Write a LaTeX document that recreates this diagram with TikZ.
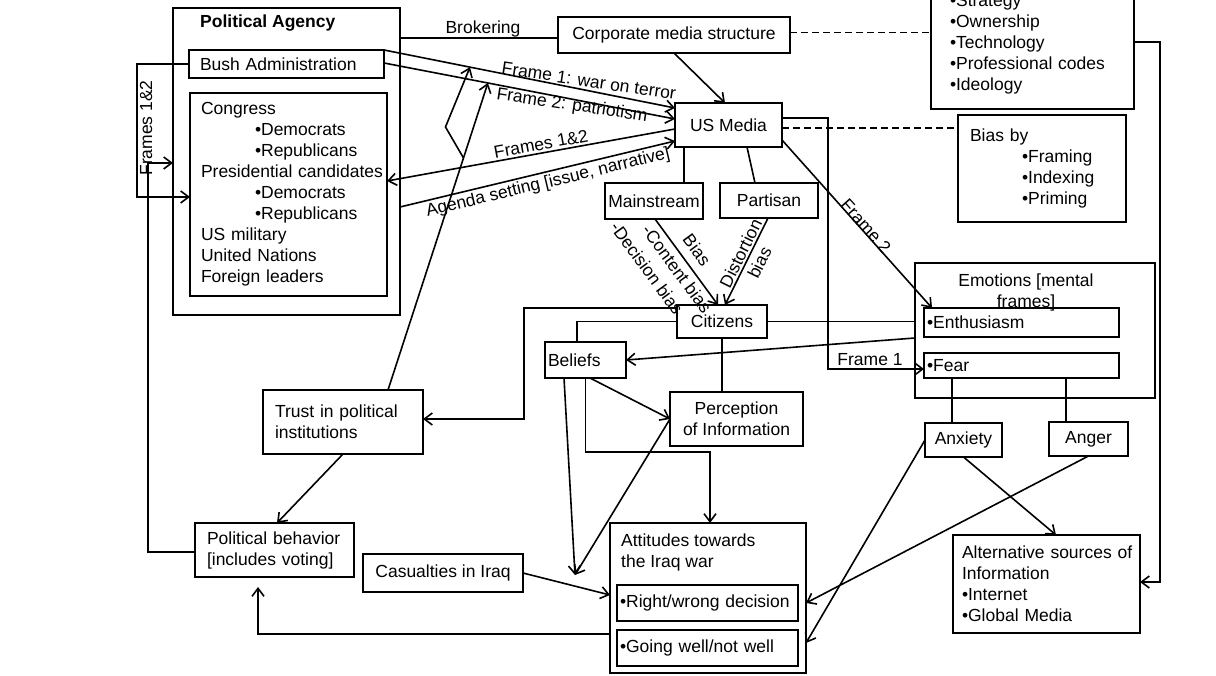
\documentclass[tikz,border=0pt]{standalone}
\usepackage{fontspec}
\setmainfont{Liberation Sans}
\usetikzlibrary{arrows.meta,calc}
\begin{document}
\begin{tikzpicture}[x=1pt,y=-1pt,
  every node/.style={font=\fontsize{17.5}{21}\selectfont, text=black},
  bx/.style={draw, line width=2.5pt, inner ysep=0pt, inner xsep=0pt, outer sep=0pt, anchor=north west, align=center},
  lb/.style n args={3}{align=left, minimum width=#1pt, text width=#2pt, inner xsep=#3pt},
  ln/.style={line width=1.6pt},
  arr/.style={line width=1.6pt, -{Straight Barb[length=8pt,width=12pt]}},
  dsh/.style={line width=1.8pt, dash pattern=on 7pt off 4pt},
  lbl/.style={inner sep=0pt},
]
\fill[white] (0,0) rectangle (1216,676);
\useasboundingbox (0,0) rectangle (1216,676);
\clip (0,0) rectangle (1216,676);

% ---------- boxes ----------
\node[bx, line width=2.9pt, minimum width=227pt, minimum height=307pt] (pa) at (173,8) {};
\node[anchor=west, inner sep=0pt, font=\fontsize{17.5}{21}\selectfont\bfseries] (patitle) at (200,23) {Political Agency};
\node[bx, lb={195}{173}{11}, minimum height=28pt] (bush) at (189,50) {Bush Administration};
\node[bx, lb={197}{175}{11}, minimum height=203pt] (cong) at (190,93) {Congress\\\hspace*{54pt}•Democrats\\\hspace*{54pt}•Republicans\\\mbox{Presidential candidates}\\\hspace*{54pt}•Democrats\\\hspace*{54pt}•Republicans\\US military\\United Nations\\Foreign leaders};
\node[bx, minimum width=232pt, minimum height=36pt] (corp) at (558,17) {Corporate media structure};
\node[bx, lb={203}{165}{19}, minimum height=130pt] (tr) at (931,-21) {•Strategy\\•Ownership\\•Technology\\•Professional codes\\•Ideology};
\node[bx, minimum width=107pt, minimum height=44pt] (usm) at (675,103) {US Media};
\node[bx, lb={168}{144}{12}, minimum height=107pt] (bias) at (958,115) {Bias by\\\hspace*{52pt}•Framing\\\hspace*{52pt}•Indexing\\\hspace*{52pt}•Priming};
\node[bx, minimum width=98pt, minimum height=36pt] (ms) at (605,183) {Mainstream};
\node[bx, minimum width=98pt, minimum height=35pt] (pt) at (720,183) {Partisan};
\node[bx, minimum width=90pt, minimum height=33pt] (cit) at (677,305) {Citizens};
\node[bx, minimum width=240pt, minimum height=135pt] (emo) at (915,263) {};
\node[inner sep=0pt, align=center] (emotitle) at (1026,292) {Emotions [mental\\frames]};
\node[bx, lb={195}{189}{3}, minimum height=29pt] (enth) at (924,308) {•Enthusiasm};
\node[bx, lb={195}{189}{3}, minimum height=25pt] (fear) at (924,353) {•Fear};
\node[bx, minimum width=77pt, minimum height=34pt] (anx) at (925,423) {Anxiety};
\node[bx, minimum width=79pt, minimum height=34pt] (ang) at (1049,422) {Anger};
\node[bx, lb={81}{75}{3}, minimum height=36pt] (bel) at (545,342) {Beliefs};
\node[bx, minimum width=133pt, minimum height=54pt] (perc) at (670,392) {Perception\\of Information};
\node[bx, lb={160}{136}{12}, minimum height=64pt] (trust) at (263,390) {Trust in political\\institutions};
\node[bx, lb={159}{135}{12}, minimum height=54pt] (pb) at (195,523) {\mbox{Political behavior}\\\mbox{[includes voting]}};
\node[bx, minimum width=160pt, minimum height=38pt] (cas) at (363,554) {Casualties in Iraq};
\node[bx, minimum width=196pt, minimum height=150pt] (att) at (610,523) {};
\node[anchor=west, inner sep=0pt, align=left] (atttitle) at (621,552.5) {Attitudes towards\\the Iraq war};
\node[bx, lb={181}{175}{3}, minimum height=36pt] (rw) at (617,585) {•Right/wrong decision};
\node[bx, lb={181}{175}{3}, minimum height=36pt] (gw) at (617,630) {•Going well/not well};
\node[bx, lb={187}{169}{9}, minimum height=98pt] (alt) at (953,535) {\mbox{Alternative sources of}\\Information\\•Internet\\•Global Media};

% ---------- connectors ----------
% Brokering
\coordinate (brk) at ([yshift=-3pt]corp.west);
\draw[ln] (brk) -- (brk -| pa.east);
\node[lbl] (brklbl) at (483,29) {Brokering};
% corporate -- strategy box (dashed)
\coordinate (cd) at ([yshift=2.5pt]corp.east);
\draw[dsh] (cd) -- (cd -| tr.west);
% corporate -> US Media
\draw[arr] (corp.south) -- ([xshift=-3.5pt]usm.north);
% Frames 1 and 2 from Bush Administration
\coordinate (f1s) at (bush.north east);
\coordinate (f1e) at ([yshift=17pt]usm.west);
\coordinate (f2s) at ([yshift=1pt]bush.east);
\coordinate (f2e) at ([yshift=6pt]usm.west);
\draw[arr] (f1s) -- (f1e);
\draw[arr] (f2s) -- (f2e);
\node[lbl, rotate=-8.5] (f1lbl) at (589,81) {Frame 1: war on terror};
\node[lbl, rotate=-8.5] (f2lbl) at (572,106) {Frame 2: patriotism};
% Frames 1&2 to Congress
\coordinate (f3s) at ([yshift=-4pt]usm.west);
\coordinate (f3e) at ([yshift=13.5pt]cong.east);
\draw[arr] (f3s) -- (f3e);
\node[lbl, rotate=10.5] (f3lbl) at (541,144) {Frames 1\&2};
% Agenda setting
\coordinate (ags) at ([yshift=-45.5pt]pa.east);
\coordinate (age) at ([yshift=-16pt]usm.west);
\draw[arr] (ags) -- (age);
\node[lbl, rotate=13.5] (aglbl) at (548,183) {Agenda setting [issue, narrative]};
% US Media -- Mainstream / Partisan
\coordinate (m1) at ([xshift=30pt]ms.north);
\draw[ln] (m1) -- (m1 |- usm.south);
\draw[ln] ([xshift=18.5pt]usm.south) -- ([xshift=-14pt]pt.north);
% US Media -- Bias by (dashed)
\coordinate (ud) at ([yshift=-3pt]usm.east);
\draw[dsh] (ud) -- (ud -| bias.west);
% Frame 1 to Fear
\draw[arr] ([yshift=7pt]usm.east) -- ++(46,0) |- ([yshift=-3.5pt]fear.west);
\node[lbl] (fr1lbl) at (870,360) {Frame 1};
% Frame 2 to Enthusiasm
\draw[arr] ([yshift=7pt]usm.south east) -- ([xshift=8pt]enth.north west);
\node[lbl, rotate=-48.2] (fr2lbl) at (866,226) {Frame 2};
% Mainstream / Partisan -> Citizens
\draw[arr] ([xshift=1pt]ms.south) -- ([xshift=-4pt]cit.north);
\draw[arr] ([xshift=-1pt]pt.south) -- ([xshift=3pt]cit.north);
\node[lbl, rotate=-53.8] (b1) at (697,250) {Bias};
\node[lbl, rotate=-53.8] (b2) at (677,269) {-Content bias};
\node[lbl, rotate=-53.8] (b3) at (647,268) {-Decision bias};
\node[lbl, rotate=63.7, align=center] (b4) at (750,258) {Distortion\\bias};
% Citizens -- Emotions
\draw[ln] (cit.east) -- (cit.east -| emo.west);
% Emotions -> Beliefs
\draw[arr] ([yshift=-7.5pt]emo.west) -- (bel.east);
% Citizens -- Beliefs
\draw[ln] (cit.west) -| ([xshift=-8.5pt]bel.north);
% Citizens -> Trust
\draw[arr] ([yshift=-3pt]cit.north west) -- ++(-153,0) |- ([yshift=3pt]trust.east);
% Citizens -- Perception
\draw[ln] (cit.south) -- (cit.south |- perc.north);
% Beliefs -> Perception
\draw[arr] ([xshift=4.5pt]bel.south) -- (perc.west);
% Beliefs -> Attitudes
\draw[arr] (bel.south) -- ++(0,74) -| ([xshift=2pt]att.north);
% converging arrows
\coordinate (conv) at (575,575);
\draw[arr] ([xshift=-21.5pt]bel.south) -- (conv);
\draw[arr] (perc.west) -- (conv);
% Casualties -> Attitudes
\draw[arr] (cas.east) -- ([yshift=3pt]att.west);
% Attitudes -> Political behavior
\draw[arr, shorten >=10pt] ([yshift=-36pt]att.west) -| ([xshift=-16.5pt]pb.south);
% Anxiety / Anger -> Attitudes
\draw[arr] (anx.west) -- ([yshift=-45pt]att.east);
\draw[arr] (ang.south) -- ([xshift=8pt]rw.east);
% Anxiety -> Alternative sources
\draw[arr] (anx.south) -- ([xshift=9.5pt]alt.north);
% Strategy box -> Alternative sources
\draw[arr] ([yshift=2pt]tr.east) -- ++(26,0) |- ([yshift=2pt]alt.east);
% Fear -- Anxiety / Anger
\coordinate (fa) at ([xshift=-69.5pt]fear.south);
\draw[ln] (fa) -- (fa |- anx.north);
\coordinate (fg) at ([xshift=44.5pt]fear.south);
\draw[ln] (fg) -- (fg |- ang.north);
% Trust -> Political behavior
\draw[arr] (trust.south) -- ([xshift=2.5pt]pb.north);
% Trust -> frame lines
\coordinate (t1) at ($(f1s)!0.2955!(f1e)$);
\coordinate (t2) at ($(f2s)!0.357!(f2e)$);
\coordinate (trs) at ([xshift=45pt]trust.north);
\coordinate (zz) at ($(trs)!0.7557!(t2)$);
\draw[arr] (trs) -- (t2);
\draw[arr] (zz) -- ++(-18,-31) -- (t1);
% Political behavior -> Political Agency
\draw[arr] ([yshift=-2pt]pb.west) -- ++(-47,0) |- ([yshift=-1.5pt]pa.west);
% Bush Administration -> Congress (Frames 1&2)
\draw[arr] (bush.west) -- ++(-52,0) |- ([yshift=-2.5pt]cong.west);
\node[lbl, rotate=90] (f12lbl) at (146,128) {Frames 1\&2};
\end{tikzpicture}
\end{document}
